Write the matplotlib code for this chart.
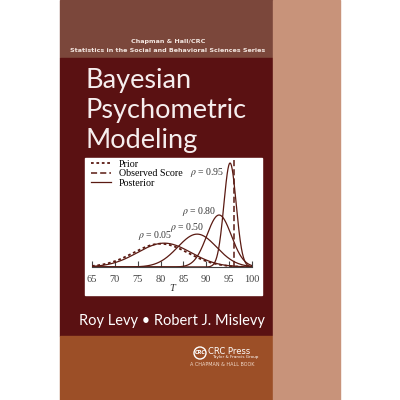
import numpy as np
import matplotlib
matplotlib.use("Agg")
import matplotlib.pyplot as plt
from matplotlib.patches import Rectangle, Circle

plt.rcParams["mathtext.fontset"] = "stix"

prior_mean = 80.0
prior_sd = 6.0
observed = 96.0
reliabilities = [0.05, 0.50, 0.80, 0.95]
label_pos = [(82.5, 0.089), (89.5, 0.112), (92.3, 0.16), (93.9, 0.27)]
xticks = [65, 70, 75, 80, 85, 90, 95, 100]

W = 400
fig = plt.figure(figsize=(4, 4), dpi=100)
fig.patch.set_facecolor("white")

def rect(x0, y0, x1, y1, c):
    fig.patches.append(Rectangle((x0 / W, 1 - y1 / W), (x1 - x0) / W, (y1 - y0) / W,
                                 transform=fig.transFigure, color=c, zorder=-5))

rect(60, 0, 273, 58, "#7b473b")
rect(60, 58, 273, 336, "#5a1112")
rect(60, 336, 273, 400, "#9c4f27")
rect(273, 0, 340, 400, "#c8937a")
rect(85, 158, 262, 295, "white")

def t(x, y, s, **kw):
    fig.text(x / W, 1 - y / W, s, **kw)

t(168, 42, "Chapman & Hall/CRC", ha="center", va="center", color="#f3e6e0", fontsize=4.6, fontweight="bold", family="DejaVu Sans")
t(168, 50, "Statistics in the Social and Behavioral Sciences Series", ha="center", va="center", color="#f3e6e0", fontsize=4.6, fontweight="bold", family="DejaVu Sans")
for i, line in enumerate(["Bayesian", "Psychometric", "Modeling"]):
    t(85, 88 + 30 * i, line, ha="left", va="baseline", color="#f6eeee", fontsize=19.5, family="Lato")
t(172, 321, "Roy Levy \u2022 Robert J. Mislevy", ha="center", va="center", color="white", fontsize=10.5, family="Lato")
fig.patches.append(Circle((200 / W, 1 - 353 / W), 6 / W, transform=fig.transFigure, fill=False, ec="white", lw=1, zorder=1))
t(200, 353, "CRC", ha="center", va="center", color="white", fontsize=3.5, fontweight="bold", style="italic")
t(208, 351, "CRC Press", ha="left", va="center", color="white", fontsize=6)
t(212, 357, "Taylor & Francis Group", ha="left", va="center", color="white", fontsize=3)
t(190, 365, "A CHAPMAN & HALL BOOK", ha="left", va="center", color="#f0d8c8", fontsize=3.5)

ax = fig.add_axes([92 / W, 1 - 267 / W, 160 / W, 107 / W], zorder=5)
ax.set_facecolor("none")
col = "#5a1a12"
x = np.linspace(65, 100, 800)
def dens(m, s):
    return np.exp(-0.5 * ((x - m) / s) ** 2) / (s * np.sqrt(2 * np.pi))
ax.plot(x, dens(prior_mean, prior_sd), ls=(0, (1.5, 1.5)), color=col, lw=1.3, label="Prior")
ax.axvline(observed, ls=(0, (4, 2)), color=col, lw=1.1, label="Observed Score")
for i, r in enumerate(reliabilities):
    m = r * observed + (1 - r) * prior_mean
    s = prior_sd * np.sqrt(1 - r)
    ax.plot(x, dens(m, s), color=col, lw=0.9, label="Posterior" if i == 0 else None)
    lx, ly = label_pos[i]
    ax.text(lx, ly, r"$\rho$ = %.2f" % r, ha="right", va="center", fontsize=7, family="Liberation Serif", color="#333")
ax.set_xlim(65, 100)
ax.set_ylim(0, 0.306)
for s in ["top", "right", "left"]:
    ax.spines[s].set_visible(False)
ax.spines["bottom"].set_color("#444")
ax.set_yticks([])
ax.set_xticks(xticks)
ax.tick_params(axis="x", direction="in", length=4, labelsize=7.5, colors="#444", pad=6)
for lab in ax.get_xticklabels():
    lab.set_family("Liberation Serif")
ax.set_xlabel("T", fontsize=7.5, style="italic", family="Liberation Serif", labelpad=0, color="#333")
ax.legend(loc="upper left", bbox_to_anchor=(-0.05, 1.07), frameon=False,
          prop={"family": "Liberation Serif", "size": 7.2}, handlelength=2, labelspacing=0.05, borderpad=0.2)

fig.savefig("out.png", dpi=100)
